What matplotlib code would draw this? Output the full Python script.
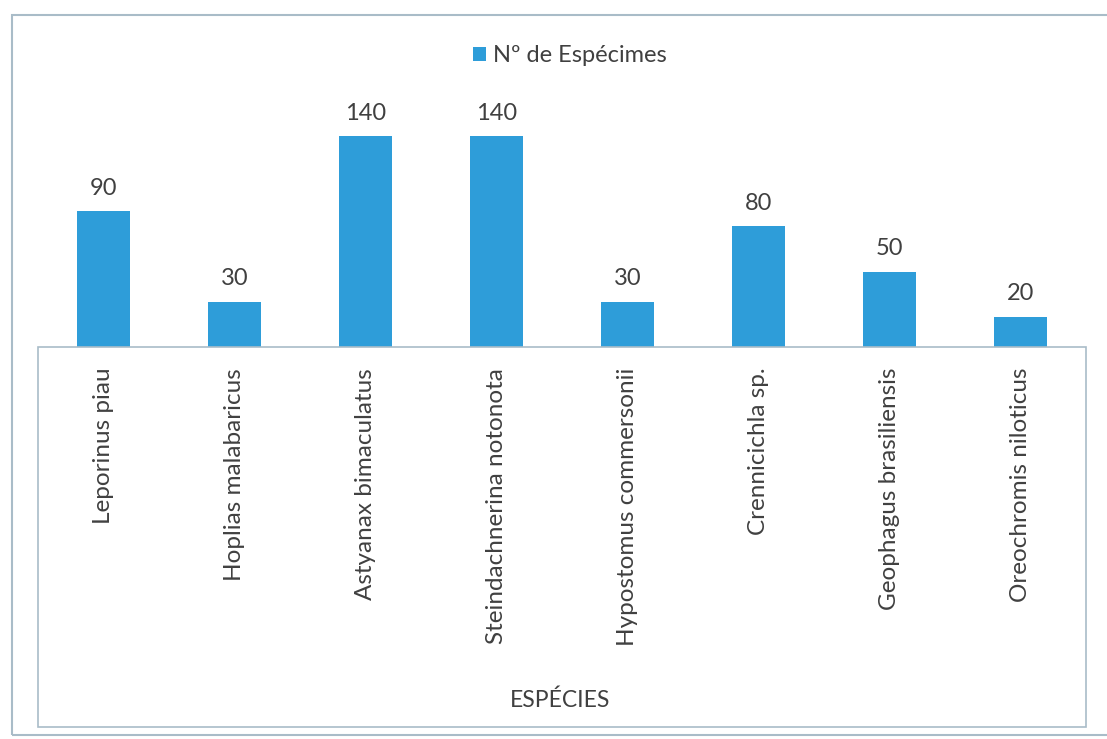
import matplotlib.pyplot as plt
from matplotlib.patches import Rectangle

species = [
    "Leporinus piau",
    "Hoplias malabaricus",
    "Astyanax bimaculatus",
    "Steindachnerina notonota",
    "Hypostomus commersonii",
    "Crennicichla sp.",
    "Geophagus brasiliensis",
    "Oreochromis niloticus",
]
specimens = [90, 30, 140, 140, 30, 80, 50, 20]

W, H = 1107, 739
bar_color = "#2e9dd9"
text_color = "#404040"
line_color = "#a9bcc8"

plt.rcParams["font.family"] = ["Lato", "DejaVu Sans"]

fig = plt.figure(figsize=(W / 100, H / 100), dpi=100)

# axes spans the bar area; baseline at y=347 px
left, right, base, top = 38, 1086, 347, 100
ax = fig.add_axes([left / W, (H - base) / H, (right - left) / W, (base - top) / H])
ax.set_facecolor("none")

x = range(len(species))
bars = ax.bar(x, specimens, width=0.4, color=bar_color, label="Nº de Espécimes", zorder=3)
ax.set_xlim(-0.5, len(species) - 0.5)
ax.set_ylim(0, (base - top) / 1.507)

for rect, v in zip(bars, specimens):
    ax.annotate(str(v), (rect.get_x() + rect.get_width() / 2, v),
                xytext=(0, 9), textcoords="offset points",
                ha="center", va="bottom", fontsize=17, color=text_color)

ax.set_xticks(list(x))
ax.set_xticklabels(species, rotation=90, fontsize=17.5, color=text_color)
ax.tick_params(axis="x", length=0, pad=15)
ax.set_yticks([])
for s in ax.spines.values():
    s.set_visible(False)

# box below the baseline holding the category labels
fig.patches.append(Rectangle((left / W, (H - 727) / H), (right - left) / W, (727 - base) / H,
                             transform=fig.transFigure, fill=False,
                             edgecolor=line_color, linewidth=1.2, zorder=0))
# outer chart border
fig.patches.append(Rectangle((12 / W, 4 / H), (1120 - 12) / W, (H - 15 - 4) / H,
                             transform=fig.transFigure, fill=False,
                             edgecolor=line_color, linewidth=1.5, zorder=0))

fig.text(560 / W, 1 - 700 / H, "ESPÉCIES", ha="center", va="center",
         fontsize=16.5, color=text_color)

leg = fig.legend(handles=[bars], labels=["Nº de Espécimes"], loc="center",
                 bbox_to_anchor=(570 / W, 1 - 56 / H), frameon=False,
                 fontsize=17, handlelength=0.55, handleheight=0.55, handletextpad=0.3)
for t in leg.get_texts():
    t.set_color(text_color)

fig.savefig("out.png", dpi=100, facecolor="white")
